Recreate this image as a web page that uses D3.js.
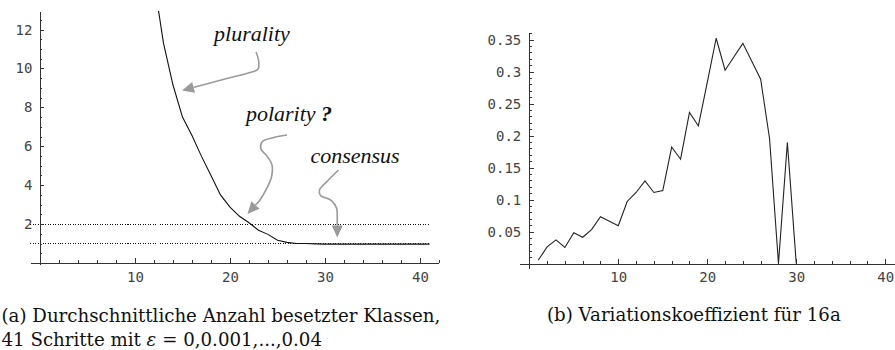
<!DOCTYPE html>
<html>
<head>
<meta charset="utf-8">
<script src="https://cdn.jsdelivr.net/npm/d3@7/dist/d3.min.js"></script>
<style>
  html, body { margin: 0; padding: 0; background: #fff; }
  svg { display: block; }
  .tick text { font-family: "DejaVu Sans Mono", monospace; font-size: 14px; fill: #444; }
  .axis path, .axis line { stroke: #333; stroke-width: 1; shape-rendering: crispEdges; }
  .note { font-family: "Liberation Serif", "Times New Roman", serif; font-style: italic; font-size: 22px; fill: #111; }
  .caption { font-family: "DejaVu Serif", serif; fill: #111; }
</style>
</head>
<body>
<svg id="chart" width="895" height="350"></svg>
<script>
// (a) mean number of occupied classes per step (values above the plot range are clipped)
const stepsA = [12, 13, 14, 15, 16, 17, 18, 19, 20, 21, 22, 23, 24, 25, 26, 27, 28, 29, 30,
                31, 32, 33, 34, 35, 36, 37, 38, 39, 40, 41];
const anzahl = [14.5, 11.3, 9.15, 7.5, 6.55, 5.48, 4.5, 3.5, 2.87, 2.4, 2.07, 1.68, 1.47, 1.17, 1.06, 1.0, 1.0, 0.98, 0.97,
                0.97, 0.97, 0.97, 0.97, 0.97, 0.97, 0.97, 0.97, 0.97, 0.97, 0.97];
const referenceLevels = [2, 1];

// (b) coefficient of variation per step
const stepsB = [1, 2, 3, 4, 5, 6, 7, 8, 9, 10, 11, 12, 13, 14, 15, 16, 17, 18, 19, 20,
                21, 22, 23, 24, 25, 26, 27, 28, 29, 30];
const variation = [0.005, 0.026, 0.037, 0.025, 0.048, 0.041, 0.053, 0.073, 0.066, 0.059,
                   0.097, 0.111, 0.129, 0.111, 0.114, 0.182, 0.163, 0.236, 0.215, 0.283,
                   0.352, 0.302, 0.323, 0.344, 0.316, 0.288, 0.195, 0, 0.189, 0];

// tick labels
const xMajorTicks = [10, 20, 30, 40];
const yMajorTicksA = [2, 4, 6, 8, 10, 12];
const yMajorTicksB = [0.05, 0.1, 0.15, 0.2, 0.25, 0.3, 0.35];

// annotations on panel (a), in data units
const noteLabels = ["plurality", "polarity", "consensus"];
const noteAnchors = [[18.32, 11.41], [21.68, 7.28], [28.47, 5.12]];
const arrowPaths = [
  [[22.74, 10.85], [23.0, 10.44], [22.95, 9.97], [22.1, 9.79], [19.47, 9.46], [16.32, 9.05], [14.95, 8.87]],
  [[26.0, 6.58], [24.42, 6.43], [23.37, 6.22], [23.26, 5.86], [23.89, 5.5], [24.42, 5.04], [24.37, 4.42], [23.89, 3.86], [23.16, 3.24], [21.84, 2.52]],
  [[31.42, 4.78], [30.21, 4.19], [29.42, 3.75], [29.53, 3.47], [30.68, 3.21], [31.21, 2.83], [31.29, 2.21], [31.29, 1.31]]
];

const svg = d3.select("#chart");

function range(a, b, step) {
  const out = [];
  for (let v = a; v <= b + 1e-9; v += step) out.push(+v.toFixed(4));
  return out;
}

function drawAxes(g, x, y, xMinor, yMinor, xMajor, yMajor, yFmt, yPad) {
  const x0 = y(0), y0 = x(0);
  // minor ticks (inward)
  g.append("g").attr("class", "axis").attr("transform", `translate(0,${x0})`)
    .call(d3.axisBottom(x).tickValues(xMinor).tickSizeInner(-2.5).tickSizeOuter(0).tickFormat(""));
  g.append("g").attr("class", "axis").attr("transform", `translate(${y0},0)`)
    .call(d3.axisLeft(y).tickValues(yMinor).tickSizeInner(-2.5).tickSizeOuter(0).tickFormat(""));
  // major ticks with labels
  g.append("g").attr("class", "axis").attr("transform", `translate(0,${x0})`)
    .call(d3.axisBottom(x).tickValues(xMajor).tickSizeInner(-4.5).tickSizeOuter(0).tickPadding(9))
    .call(s => s.select(".domain").remove());
  g.append("g").attr("class", "axis").attr("transform", `translate(${y0},0)`)
    .call(d3.axisLeft(y).tickValues(yMajor).tickSizeInner(-4.5).tickSizeOuter(0).tickPadding(yPad).tickFormat(yFmt))
    .call(s => s.select(".domain").remove());
}

// ---------- panel (a) ----------
const xA = d3.scaleLinear().domain([-1.05, 41.9]).range([30.0, 438.05]);
const yA = d3.scaleLinear().domain([-0.1, 12.95]).range([264.9, 11.1]);
const gA = svg.append("g");

svg.append("clipPath").attr("id", "clipA").append("rect")
  .attr("x", xA(-1.05)).attr("y", yA(12.95)).attr("width", xA(41.9) - xA(-1.05)).attr("height", yA(-0.1) - yA(12.95));

gA.selectAll("line.level").data(referenceLevels).join("line")
  .attr("class", "level")
  .attr("x1", xA(-1.05)).attr("x2", xA(41))
  .attr("y1", d => yA(d)).attr("y2", d => yA(d))
  .attr("stroke", "#111").attr("stroke-width", 1).attr("stroke-dasharray", "1,1.5")
  .attr("shape-rendering", "crispEdges");

drawAxes(gA, xA, yA, range(0, 42, 2), range(0, 12.5, 0.5), xMajorTicks, yMajorTicksA, d => String(d), 7.5);

gA.append("path")
  .datum(stepsA.map((s, i) => [s, anzahl[i]]))
  .attr("clip-path", "url(#clipA)")
  .attr("fill", "none").attr("stroke", "#111").attr("stroke-width", 1.1)
  .attr("d", d3.line().x(d => xA(d[0])).y(d => yA(d[1])));

// annotation arrows
const arrowColor = "#9a9a9a";
arrowPaths.forEach(pts => {
  const px = pts.map(p => [xA(p[0]), yA(p[1])]);
  const tip = px[px.length - 1];
  const prev = px[px.length - 2];
  const dx = tip[0] - prev[0], dy = tip[1] - prev[1];
  const len = Math.hypot(dx, dy);
  const ux = dx / len, uy = dy / len;
  const headLen = 12, headHalf = 5.5;
  const base = [tip[0] - ux * headLen, tip[1] - uy * headLen];
  const shaft = px.slice(0, -1).concat([base]);
  gA.append("path")
    .attr("d", d3.line().curve(d3.curveCatmullRom.alpha(0.5))(shaft))
    .attr("fill", "none").attr("stroke", arrowColor).attr("stroke-width", 1.6);
  gA.append("path")
    .attr("d", `M${tip[0]},${tip[1]}L${base[0] - uy * headHalf},${base[1] + ux * headHalf}L${base[0] + uy * headHalf},${base[1] - ux * headHalf}Z`)
    .attr("fill", arrowColor);
});

noteLabels.forEach((label, i) => {
  const t = gA.append("text").attr("class", "note")
    .attr("x", xA(noteAnchors[i][0])).attr("y", yA(noteAnchors[i][1]))
    .text(label);
  if (label === "polarity") {
    t.append("tspan").text(" ?").attr("font-weight", "bold");
  }
});

// ---------- panel (b) ----------
const xB = d3.scaleLinear().domain([-1.1, 41.6]).range([519.5, 899.5]);
const yB = d3.scaleLinear().domain([-0.007, 0.361]).range([268.0, 32.5]);
const gB = svg.append("g");

drawAxes(gB, xB, yB, range(0, 42, 2), range(0, 0.36, 0.01), xMajorTicks, yMajorTicksB, d => String(+d.toFixed(2)), 8);

gB.append("path")
  .datum(stepsB.map((s, i) => [s, variation[i]]))
  .attr("fill", "none").attr("stroke", "#222").attr("stroke-width", 1.1)
  .attr("d", d3.line().x(d => xB(d[0])).y(d => yB(d[1])));

// ---------- captions ----------
const capSize = 18.2;
svg.append("text").attr("class", "caption").attr("x", 1.5).attr("y", 321.5)
  .attr("font-size", capSize).text("(a) Durchschnittliche Anzahl besetzter Klassen,");
const capA2 = svg.append("text").attr("class", "caption").attr("x", 1.5).attr("y", 345.5)
  .attr("font-size", capSize);
capA2.append("tspan").text("41 Schritte mit ");
capA2.append("tspan").attr("font-style", "italic").text("ε");
capA2.append("tspan").text(" = 0,0.001,...,0.04");
svg.append("text").attr("class", "caption").attr("x", 547).attr("y", 320.5)
  .attr("font-size", capSize).text("(b) Variationskoeffizient für 16a");
</script>
</body>
</html>
